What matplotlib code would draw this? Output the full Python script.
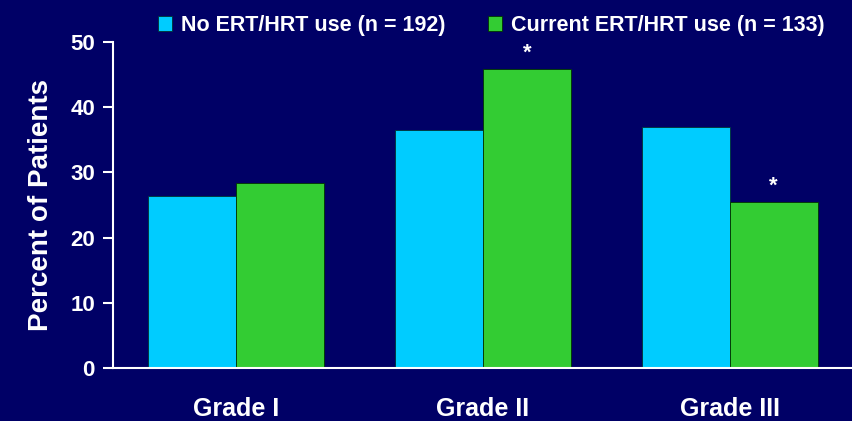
import matplotlib

matplotlib.use("Agg")
import matplotlib.pyplot as plt
import numpy as np

# Data
grades = ["Grade I", "Grade II", "Grade III"]
no_ert = [26.4, 36.5, 37.0]
current_ert = [28.4, 45.9, 25.5]
significant = [False, True, True]  # asterisk over the "current use" bar
series_labels = ["No ERT/HRT use (n = 192)", "Current ERT/HRT use (n = 133)"]
yticks = [0, 10, 20, 30, 40, 50]

BG = "#000066"
CYAN = "#00CCFF"
GREEN = "#33CC33"
FONT = ["Liberation Sans", "DejaVu Sans"]

plt.rcParams["font.family"] = FONT
plt.rcParams["font.weight"] = "bold"

fig = plt.figure(figsize=(8.53, 4.21), dpi=100, facecolor=BG)
ax = fig.add_axes([0.1325, 0.126, 0.8675, 0.774], facecolor=BG)

x = np.arange(len(grades))
w = 0.357
b1 = ax.bar(x - w / 2, no_ert, w, color=CYAN, edgecolor="#003333", linewidth=0.6, label=series_labels[0])
b2 = ax.bar(x + w / 2, current_ert, w, color=GREEN, edgecolor="#003300", linewidth=0.6, label=series_labels[1])

for xi, v, sig in zip(x, current_ert, significant):
    if sig:
        ax.text(xi + w / 2, v + 0.8, "*", ha="center", va="bottom", color="white",
                fontsize=16, fontweight="bold")

ax.set_xlim(-0.5, 2.5)
ax.set_ylim(0, 50)
ax.set_yticks(yticks)
ax.set_xticks(x)
ax.set_xticklabels(grades)
ax.tick_params(axis="x", length=0, pad=21, labelsize=18, colors="white")
ax.tick_params(axis="y", length=7, width=1.5, direction="out", pad=6, labelsize=16, colors="white")
for lbl in ax.get_xticklabels() + ax.get_yticklabels():
    lbl.set_fontweight("bold")

ax.spines["top"].set_visible(False)
ax.spines["right"].set_visible(False)
ax.spines["left"].set_color("white")
ax.spines["left"].set_linewidth(1.5)
ax.spines["bottom"].set_color("white")
ax.spines["bottom"].set_linewidth(1.5)

ax.set_ylabel("Percent of Patients", color="white", fontsize=20, fontweight="bold", labelpad=12)

fig.legend(handles=[b1, b2], loc="upper center", bbox_to_anchor=(0.576, 1.01), ncol=2,
           frameon=False, handlelength=0.65, handleheight=0.65,
           handletextpad=0.4, columnspacing=2.0, labelcolor="white",
           prop={"weight": "bold", "size": 15.5})

fig.savefig("out.png", dpi=100, facecolor=BG)
